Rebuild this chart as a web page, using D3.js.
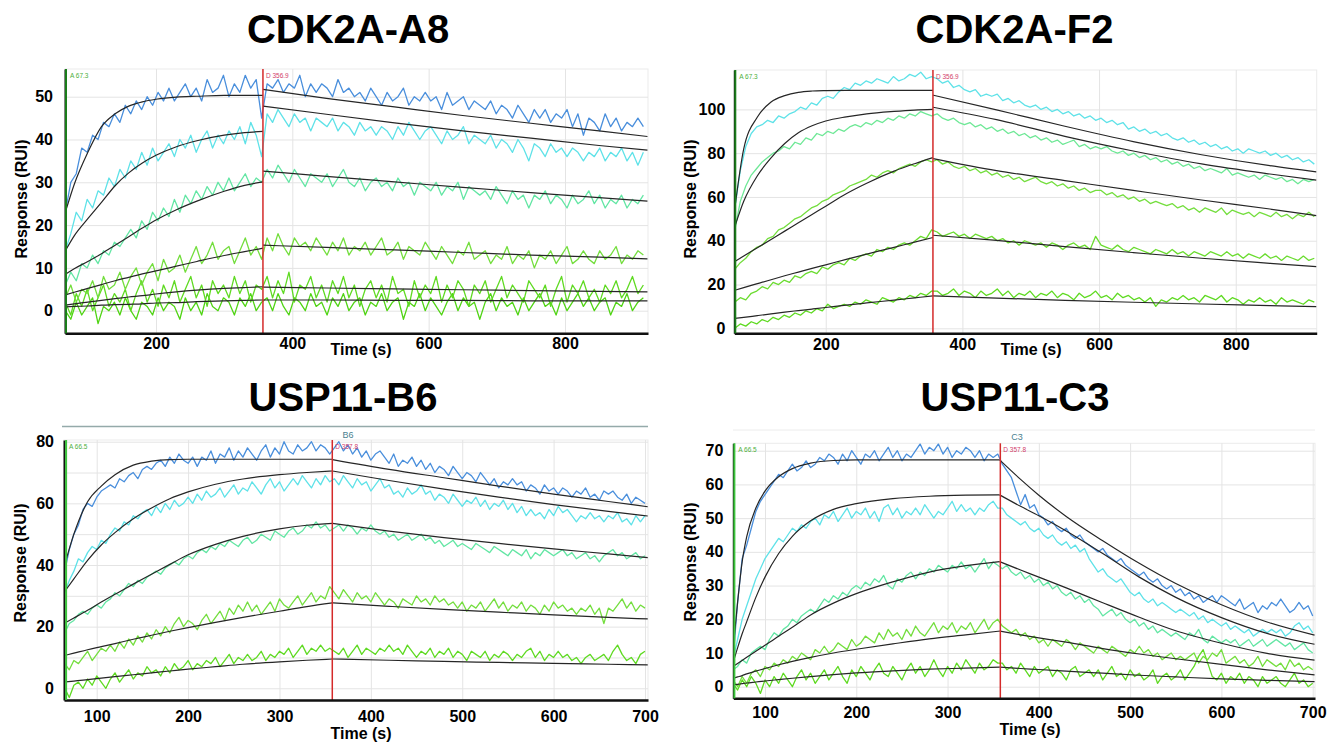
<!DOCTYPE html>
<html><head><meta charset="utf-8">
<script src="https://cdn.jsdelivr.net/npm/d3@7"></script>
<style>
body{margin:0;background:#fff;}
svg{display:block;font-family:"Liberation Sans",Arial,Helvetica,sans-serif;}
</style></head><body>
<svg id="c" width="1337" height="742"></svg>
<script>
// ---------- titles & ticks ----------
const titles = ["CDK2A-A8", "CDK2A-F2", "USP11-B6", "USP11-C3"];
const a8XTicks = [200, 400, 600, 800], a8YTicks = [0, 10, 20, 30, 40, 50], a8YGrid = [0, 10, 20, 30, 40, 50];
const f2XTicks = [200, 400, 600, 800], f2YTicks = [0, 20, 40, 60, 80, 100], f2YGrid = [0, 20, 40, 60, 80, 100];
const b6XTicks = [100, 200, 300, 400, 500, 600, 700], b6YTicks = [0, 20, 40, 60, 80], b6YGrid = [0, 10, 20, 30, 40, 50, 60, 70, 80];
const c3XTicks = [100, 200, 300, 400, 500, 600, 700], c3YTicks = [0, 10, 20, 30, 40, 50, 60, 70], c3YGrid = [0, 10, 20, 30, 40, 50, 60, 70];
const assocStart = [67.3, 67.3, 66.5, 66.5];
const dissocStart = [356.9, 356.9, 357.8, 357.8];

// ---------- sampling times (s) ----------
const a8Times = d3.range(67, 916, 8);
const f2Times = d3.range(67, 916, 8);
const b6Times = d3.range(65, 701, 5);
const c3Times = d3.range(65, 701, 5);

// ---------- CDK2A-A8 responses (RU) ----------
const a8S1 = [23,30,32,38,37,41,40,44,43,46, 44,48,46,49,47,50,48,51,49,52, 49,51,53,50,52,49,54,51,52,55, 50,53,51,55,52,54,45, 53,52,54,51,53,52,55,50,53,51, 53,52,50,54,51,52,50,51,49,52, 50,48,51,49,50,52,48,50,49,51, 49,50,47,51,48,49,50,47,49,48, 47,49,46,48,47,45,48,46,44,47, 45,47,44,46,45,47,43,46,41,45, 44,42,46,43,45,42,44,43,45,43];
const a8S2 = [14,18,23,21,26,24,28,27,31,29, 33,31,35,33,37,34,38,35,37,39, 36,40,38,41,37,40,42,38,41,39, 42,40,43,39,44,41,36, 46,44,47,45,43,46,44,45,42,45, 44,43,45,42,44,43,41,44,42,43, 41,43,42,40,43,41,44,42,40,42, 43,41,39,42,40,41,43,39,41,40, 39,41,38,40,39,37,40,38,35,39, 38,36,39,37,38,36,38,37,35,37, 36,38,35,37,36,38,35,37,34,37];
const a8S3 = [6,9,7,11,10,13,11,14,13,16, 15,17,19,17,21,19,23,21,24,22, 26,23,27,25,28,26,29,27,30,28, 31,28,30,32,29,31,30, 33,31,34,32,30,33,31,29,32,31, 30,32,29,31,33,30,29,31,28,30, 31,29,30,28,31,29,30,27,30,29, 28,30,27,29,28,30,26,29,28,27, 28,26,29,27,25,28,26,27,24,27, 26,28,25,27,26,24,27,25,26,28, 25,27,24,26,25,27,24,26,25,27];
const a8S4 = [3,6,2,5,4,7,3,8,5,6, 9,5,8,10,6,9,11,7,12,9, 10,13,9,12,15,11,13,16,12,14, 15,11,14,17,13,15,12, 17,14,18,15,13,17,15,16,14,17, 15,13,16,14,17,13,15,14,16,13, 15,17,13,14,16,12,15,14,13,16, 14,12,15,13,11,14,13,16,12,13, 14,11,13,12,15,11,13,12,14,10, 13,12,14,11,13,15,11,12,14,12, 11,14,12,13,15,11,13,12,14,13];
const a8S5 = [2,-1,4,1,5,0,3,6,1,4, 2,5,0,4,7,2,5,1,6,3, 7,2,5,8,3,6,1,7,4,6, 3,8,4,7,2,6,5, 8,3,7,4,9,2,6,5,8,3, 6,2,7,4,8,3,6,1,5,7, 3,6,2,8,4,5,1,7,3,6, 4,8,2,6,3,7,5,1,6,4, 7,2,5,8,3,6,4,2,7,5, 3,6,1,5,8,2,6,4,7,3, 5,2,6,4,7,3,5,8,4,6];
const a8S6 = [0,-2,2,-1,1,3,-3,1,0,2, -1,3,0,-2,2,1,-1,3,0,2, 1,-2,3,0,2,-1,4,1,0,3, 2,-1,3,1,4,0,2, 3,0,4,1,-1,3,2,0,4,1, 2,-1,3,1,4,0,2,3,-1,2, 1,4,0,2,3,-2,2,1,4,0, 3,1,-1,2,4,0,3,1,2,-2, 2,4,0,3,1,2,-1,3,0,2, 4,1,2,-1,3,0,2,4,1,3, 0,2,3,-1,2,1,4,0,2,3];
// fits
const a8FitAT = [67,80,100,120,140,160,180,200,230,260,300,330,357];
const a8FitA1 = [23,29.5,37,43,46,47.8,48.8,49.4,49.9,50.1,50.3,50.3,50.3];
const a8FitA2 = [14,17.5,21.5,25.3,29.2,32.2,34.5,36.3,38.3,39.7,41,41.6,41.9];
const a8FitA3 = [8.5,9.8,11.5,13.3,15.3,17.3,19.3,21.2,23.6,25.6,27.9,29.3,30.1];
const a8FitA4 = [3.7,4.3,5.2,6.1,7,7.8,8.6,9.3,10.4,11.5,12.9,13.8,14.6];
const a8FitA5 = [1.3,1.6,2,2.4,2.8,3.2,3.5,3.9,4.4,4.8,5.2,5.4,5.6];
const a8FitA6 = [0.9,1,1.1,1.3,1.4,1.5,1.6,1.8,1.9,2.1,2.3,2.4,2.5];
const a8FitDT = [357,450,550,650,750,850,921];
const a8FitD1 = [51.7,49.6,47.6,45.6,43.8,42,40.7];
const a8FitD2 = [47.8,45.9,43.9,42,40.3,38.6,37.5];
const a8FitD3 = [32.6,31.4,30.1,28.8,27.6,26.4,25.6];
const a8FitD4 = [15.3,14.8,14.2,13.6,13,12.5,12.1];
const a8FitD5 = [5.5,5.3,5.1,4.9,4.7,4.5,4.4];
const a8FitD6 = [2.5,2.5,2.4,2.4,2.3,2.3,2.3];

// ---------- CDK2A-F2 ----------
const f2S1 = [55,72,83,89,92,93,95,94,97,96, 98,99,101,100,103,102,105,106,105,108, 110,109,112,111,113,112,114,113,112,115, 113,114,116,115,117,114,115, 114,112,113,110,111,109,108,109,106,107, 106,107,104,105,103,104,102,101,102,100, 101,99,100,98,99,97,98,96,97,95, 96,94,95,93,94,91,92,90,91,89, 90,88,89,87,86,87,85,86,84,85, 83,84,82,83,81,82,80,82,81,80, 81,79,80,78,79,77,78,76,77,75];
const f2S2 = [45,58,65,70,73,76,78,80,81,83, 82,85,84,87,86,89,88,90,89,91, 90,92,93,92,94,93,95,94,96,95, 97,96,98,97,99,98,97, 98,96,95,96,94,93,94,92,93,91, 92,90,91,89,90,88,89,87,88,86, 87,85,86,84,85,86,83,84,82,83, 82,83,81,80,81,79,80,78,79,77, 78,76,77,75,76,74,75,73,74,72, 73,72,71,73,70,71,70,69,70,68, 70,69,68,69,67,68,66,68,67,68];
const f2S3 = [27,30,32,35,37,38,41,42,45,46, 48,50,51,53,55,56,58,59,61,62, 63,65,66,67,68,70,69,71,72,71, 73,74,75,74,76,77,76, 77,75,76,74,73,74,72,73,71,72, 70,71,69,70,68,69,67,68,69,67, 66,67,65,66,64,65,63,64,62,63, 63,61,62,60,61,59,60,58,59,57, 58,57,56,57,55,56,54,55,53,55, 54,53,55,52,54,53,52,53,51,53, 52,51,53,51,52,50,52,51,53,51];
const f2S4 = [12,14,13,16,17,19,18,21,20,22, 21,24,23,25,26,25,28,27,29,30, 29,32,31,33,34,33,36,35,37,36, 38,39,38,40,42,41,45, 44,42,43,44,42,43,41,43,42,41, 42,40,41,39,40,38,40,39,38,39, 37,39,38,36,38,39,37,38,36,42, 38,37,36,38,36,35,37,36,35,34, 36,35,34,36,34,35,33,35,34,33, 35,34,33,35,33,34,32,34,33,32, 34,32,33,31,33,32,31,33,31,32];
const f2S5 = [0,2,1,3,2,4,3,5,4,6, 5,7,6,8,7,9,8,11,9,10, 11,10,12,11,13,12,11,14,13,12, 14,13,15,14,16,15,17, 17,15,16,18,15,17,16,14,17,15, 16,18,15,17,14,16,15,17,14,16, 15,17,14,16,15,13,16,14,15,17, 14,15,13,16,14,15,13,14,12,14, 10,13,12,14,13,15,13,14,12,15, 14,13,15,12,14,13,11,13,12,14, 12,13,11,14,12,13,12,11,13,12];
const f2FitAT = [67,80,100,120,140,160,180,200,230,260,300,330,357];
const f2FitA1 = [55,82,96.5,103.4,106.3,107.8,108.4,108.6,108.7,108.7,108.7,108.7,108.7];
const f2FitA2 = [46.5,58,69.7,77.9,84.4,89.3,92.5,94.7,96.6,98,99.1,99.7,100];
const f2FitA3 = [30.5,33,36.8,40.6,44.4,48.2,52,55.8,61.5,66.3,71.8,75.2,78];
const f2FitA4 = [17.4,18.6,20.4,22.2,24,25.7,27.4,29,31.5,33.9,37,39.4,41.5];
const f2FitA5 = [4.5,5,5.8,6.6,7.4,8.1,8.8,9.5,10.6,11.6,12.9,13.9,14.8];
const f2FitDT = [357,450,550,650,750,850,918];
const f2FitD1 = [106.5,99.8,92.3,85.3,79.3,74.3,71.5];
const f2FitD2 = [101,95.3,87.7,81,75.1,70.5,67.7];
const f2FitD3 = [77.5,72,67.5,63,58.6,54.5,51.5];
const f2FitD4 = [42.5,40.2,37.3,34.6,32,29.7,28.2];
const f2FitD5 = [14.8,13.8,12.8,11.9,11.1,10.4,9.9];

// ---------- USP11-B6 ----------
const b6S1 = [38,45,50,53,58,60,59,62,64,65, 66,65,68,67,69,70,68,71,72,71, 73,74,72,75,73,76,74,73,75,72, 75,74,77,73,76,75,78,74,77,75, 78,76,74,77,79,75,78,76,80,77, 76,79,77,78,80,77,79,78,76, 78,80,77,79,76,78,75,77,74,76, 77,75,73,76,72,74,73,75,72,74, 71,73,70,72,71,69,72,70,68,70, 69,67,70,68,66,68,65,67,66,68, 66,67,64,66,65,63,66,64,65,63, 65,64,62,64,63,65,62,63,61,64, 63,64,62,61,63,60,62,61,60];
const b6S2 = [31,35,38,42,41,44,46,45,48,47, 50,52,51,54,53,56,55,57,58,56, 59,57,60,58,61,59,60,62,60,63, 61,64,62,63,65,62,64,66,63,65, 64,67,65,63,66,68,65,67,64,66, 68,66,69,67,65,68,66,69,67, 68,66,69,67,65,68,66,67,64,66, 68,65,66,63,64,62,65,63,64,66, 63,64,61,63,62,60,63,61,59,61, 60,62,59,61,58,60,59,61,58,60, 57,59,56,58,56,57,55,58,56,59, 57,58,56,54,56,55,57,55,56,54, 56,55,57,54,55,53,56,54,56];
const b6S3 = [18,21,22,24,25,24,26,27,26,28, 29,31,30,32,34,33,35,34,36,37, 38,37,39,40,41,40,42,43,42,44, 45,44,46,45,47,46,48,47,46,48, 49,47,48,50,49,48,51,50,49,51, 52,50,51,53,52,54,52,53,51, 52,53,51,53,52,50,52,51,53,51, 50,51,49,50,48,49,50,48,49,50, 48,49,47,48,46,47,48,46,47,46, 45,47,46,45,44,46,45,44,43,45, 44,43,45,42,44,43,45,44,43,44, 45,43,44,42,43,44,42,43,41,43, 44,45,43,44,42,43,44,42,43];
const b6S4 = [8,6,9,8,10,12,9,11,13,12, 14,12,15,13,16,14,17,15,18,16, 19,17,20,18,21,23,20,22,21,19, 22,24,21,23,25,22,26,24,27,25, 28,25,27,24,26,28,25,29,27,26, 28,30,27,29,31,28,30,29,33, 31,29,32,30,28,31,29,30,28,31, 29,27,29,28,26,29,28,27,30,28, 29,27,30,28,29,27,28,26,28,25, 27,26,28,25,27,29,26,28,25,27, 26,28,25,27,26,24,27,25,28,26, 27,25,26,24,26,25,27,24,26,21, 26,25,27,29,26,28,25,27,26];
const b6S5 = [0,-3,1,2,0,3,1,4,2,0, 3,5,2,4,6,3,5,4,7,5, 6,4,7,5,8,6,7,9,6,8, 7,9,8,10,7,9,11,8,10,9, 11,9,10,12,9,11,10,12,11,13, 10,12,14,11,13,12,14,12,13, 12,11,13,10,12,14,11,13,12,11, 13,12,14,12,13,11,14,12,10,12, 11,13,10,12,11,13,10,12,11,9, 12,11,10,12,9,11,10,12,11,9, 11,10,12,13,10,12,9,11,10,12, 10,11,9,10,8,10,11,9,10,11, 9,12,14,11,9,10,8,11,12];
const b6FitAT = [64,75,90,105,120,140,160,180,200,230,260,300,330,358];
const b6FitA1 = [39,50,60.5,65.6,69.3,72.4,73.7,74.2,74.3,74.3,74.3,74.3,74.3,74.3];
const b6FitA2 = [31,35.5,41.5,46.5,50.5,55,58.5,61.5,63.7,66.2,67.9,69.3,70,70.5];
const b6FitA3 = [21,22.8,25.3,28,30.5,33.8,37,40.2,43.3,46.7,49.3,51.7,52.9,53.5];
const b6FitA4 = [10.6,11.4,12.5,13.5,14.5,15.9,17.2,18.5,19.7,21.4,23,25,26.5,27.7];
const b6FitA5 = [2,2.3,2.8,3.3,3.8,4.4,5,5.6,6.2,7,7.8,8.6,9.1,9.5];
const b6FitDT = [358,420,480,540,600,660,703];
const b6FitD1 = [74.2,71,68.3,65.6,63,60.6,58.9];
const b6FitD2 = [70.5,67.4,64.6,62,59.6,57.4,55.9];
const b6FitD3 = [53.5,51,48.9,47,45.2,43.6,42.4];
const b6FitD4 = [27.7,26.6,25.6,24.7,23.8,23,22.5];
const b6FitD5 = [9.5,9.1,8.7,8.4,8.1,7.8,7.6];

// ---------- USP11-C3 ----------
const c3S1 = [8,25,38,42,47,52,55,57,59,61, 63,62,64,66,64,65,67,65,66,68, 67,69,68,66,69,67,70,68,66,69, 68,70,67,69,71,68,70,67,69,68, 70,72,69,71,70,72,69,71,68,70, 69,71,70,68,70,67,69,68,69, 66,64,62,58,54,57,53,54,51,50, 48,49,47,46,47,45,44,45,43,42, 41,40,41,39,38,37,38,36,35,34, 33,34,32,31,32,30,29,30,28,29, 27,28,26,27,25,26,27,25,27,26, 25,24,26,23,24,25,22,24,23,25, 24,26,24,22,23,25,23,24,21];
const c3S2 = [8,14,20,24,28,32,35,38,40,42, 44,43,45,47,46,48,47,49,50,48, 51,50,52,49,51,53,50,52,51,53, 50,52,49,53,54,51,53,50,52,51, 53,51,54,52,50,52,51,53,55,52, 54,52,53,51,53,52,54,55,53, 53,51,50,49,48,49,47,46,47,45, 44,45,43,42,43,41,42,40,41,38, 36,34,35,33,32,31,32,30,28,27, 28,26,25,26,24,25,24,23,22,23, 22,21,22,20,21,19,20,19,18,19, 17,18,17,16,17,15,16,17,16,17, 16,17,15,16,18,19,17,18,16];
const c3S3 = [5,6,8,7,10,11,12,11,14,16, 15,17,18,20,19,21,22,23,22,24, 26,25,27,26,28,27,29,30,29,31, 30,32,31,33,30,29,32,31,33,34, 32,34,33,35,34,36,35,34,36,35, 37,35,36,34,36,38,35,37,36, 35,36,34,33,34,32,33,31,32,30, 31,29,30,28,27,28,26,27,25,26, 24,23,21,22,23,21,22,20,19,20, 18,19,17,18,16,17,16,15,16,15, 14,16,15,17,14,13,15,14,13,14, 13,14,12,13,14,12,13,14,12,13, 14,13,12,13,11,12,13,11,10];
const c3S4 = [2,0,3,1,4,5,3,6,5,7, 6,8,7,9,8,10,9,8,11,10, 12,10,11,13,12,11,14,12,13,15, 14,13,16,14,17,15,16,14,17,15, 18,16,15,17,19,16,18,17,19,16, 18,17,19,16,18,20,17,19,20, 18,17,16,17,15,16,14,15,13,14, 12,14,13,12,14,13,11,13,12,11, 10,12,11,10,12,11,10,9,11,10, 12,10,11,9,10,8,9,10,8,9, 8,9,10,7,9,8,10,9,11,7, 8,9,7,8,6,7,9,6,8,7, 6,7,5,8,6,7,5,6,5];
const c3S5 = [1,-1,2,0,3,1,-2,2,0,3, 1,4,2,0,3,5,2,4,1,3, 5,2,4,6,3,1,5,3,6,4, 2,5,7,4,3,6,4,2,5,7, 4,6,3,5,8,5,3,6,4,7, 5,8,6,4,7,5,6,8,7, 7,5,6,4,7,5,3,6,4,5, 6,3,5,4,2,5,6,3,4,5, 3,5,2,4,6,3,4,2,5,3, 4,2,3,5,1,3,4,2,3,5, 2,4,6,9,11,7,3,2,4,1, 3,2,4,1,3,2,0,3,1,2, 3,1,0,2,4,1,2,0,1];
const c3FitAT = [65,70,75,80,90,100,115,130,150,175,200,240,280,320,357];
const c3FitA1 = [11,25,37,44.5,53,58,62.3,64.7,66.3,67.1,67.3,67.3,67.3,67.3,67.3];
const c3FitA2 = [7,11.5,15.7,19.3,26.5,32.5,39.5,44.6,49.2,52.6,54.3,55.8,56.5,56.8,56.9];
const c3FitA3 = [6,6.9,7.8,8.7,10.5,12.3,15,17.6,21.3,24.8,27.6,31.1,34,35.9,37.1];
const c3FitA4 = [2.5,2.9,3.3,3.8,4.6,5.4,6.5,7.5,8.7,10,11.1,12.7,14.2,15.4,16.5];
const c3FitA5 = [0.5,0.7,0.9,1.1,1.4,1.7,2.1,2.5,3,3.6,4.1,4.7,5.2,5.5,5.8];
const c3FitDT = [357,380,400,430,470,510,550,600,650,702];
const c3FitD1 = [67.3,61.5,56.8,50.5,43.3,36.6,30.6,24.3,19.2,15.3];
const c3FitD2 = [56.9,53.5,50.7,46.2,39.5,32.5,26.5,20.5,15.8,12.6];
const c3FitD3 = [37.1,34.6,32.5,29.3,24.9,20.6,16.6,12.9,9.9,7.9];
const c3FitD4 = [16.5,15.4,14.5,13.2,11.3,9.7,8.3,6.6,5,3.5];
const c3FitD5 = [5.8,5.4,5.1,4.6,4,3.4,2.9,2.3,1.9,1.5];

// ---------- colours ----------
const cBlue = "#4a8fdc", cCyan = "#5fe2e8", cMint = "#63e6a4", cGreen = "#74de3e", cLime = "#5fda22", cLime2 = "#50d414";

// ---------- panel table ----------
const panels = [
  {title: titles[0], tx: 348, ty: 43, L: 65, R: 648, T: 69, B: 333.3, xd: [66.5, 921.8], yd: [-5.28, 56.47],
   xt: a8XTicks, yt: a8YTicks, yg: a8YGrid, times: a8Times,
   series: [a8S6, a8S5, a8S4, a8S3, a8S2, a8S1], colors: [cLime2, cLime, cGreen, cMint, cCyan, cBlue],
   fAT: a8FitAT, fA: [a8FitA1, a8FitA2, a8FitA3, a8FitA4, a8FitA5, a8FitA6],
   fDT: a8FitDT, fD: [a8FitD1, a8FitD2, a8FitD3, a8FitD4, a8FitD5, a8FitD6],
   a: assocStart[0], d: dissocStart[0], xPad: 4.5, yPad: 12, tl: [361, 355], yl: [21, 199], gc: "#1b7d1b", tag: null},
  {title: titles[1], tx: 1014.5, ty: 43, L: 734.3, R: 1316.7, T: 70, B: 333.3, xd: [66.2, 918.5], yd: [-2.28, 118],
   xt: f2XTicks, yt: f2YTicks, yg: f2YGrid, times: f2Times,
   series: [f2S5, f2S4, f2S3, f2S2, f2S1], colors: [cLime, "#6bdc30", cGreen, "#6ee896", cCyan],
   fAT: f2FitAT, fA: [f2FitA1, f2FitA2, f2FitA3, f2FitA4, f2FitA5],
   fDT: f2FitDT, fD: [f2FitD1, f2FitD2, f2FitD3, f2FitD4, f2FitD5],
   a: assocStart[1], d: dissocStart[1], xPad: 5, yPad: 9, tl: [1031, 355], yl: [690, 199], gc: "#1b7d1b", tag: null},
  {title: titles[2], tx: 343, ty: 411, L: 64, R: 648, T: 440, B: 700, xd: [64.2, 703.3], yd: [-3.8, 80.55],
   xt: b6XTicks, yt: b6YTicks, yg: b6YGrid, times: b6Times,
   series: [b6S5, b6S4, b6S3, b6S2, b6S1], colors: [cLime, cGreen, cMint, cCyan, cBlue],
   fAT: b6FitAT, fA: [b6FitA1, b6FitA2, b6FitA3, b6FitA4, b6FitA5],
   fDT: b6FitDT, fD: [b6FitD1, b6FitD2, b6FitD3, b6FitD4, b6FitD5],
   a: assocStart[2], d: dissocStart[2], xPad: 10.5, yPad: 10, tl: [361, 739], yl: [20, 563], gc: "#3cc43c",
   tag: "B6", tagXY: [348, 437.5], topLine: [62, 648, 426.5, "#95aaaa", 1.5]},
  {title: titles[3], tx: 1015, ty: 411, L: 733.3, R: 1315, T: 443.3, B: 698.3, xd: [65.3, 702.5], yd: [-3.44, 72.2],
   xt: c3XTicks, yt: c3YTicks, yg: c3YGrid, times: c3Times,
   series: [c3S5, c3S4, c3S3, c3S2, c3S1], colors: [cLime, cGreen, cMint, cCyan, cBlue],
   fAT: c3FitAT, fA: [c3FitA1, c3FitA2, c3FitA3, c3FitA4, c3FitA5],
   fDT: c3FitDT, fD: [c3FitD1, c3FitD2, c3FitD3, c3FitD4, c3FitD5],
   a: assocStart[3], d: dissocStart[3], xPad: 8.5, yPad: 10, tl: [1030, 735], yl: [690, 562], gc: "#3cc43c",
   tag: "C3", tagXY: [1017, 440], topLine: [733, 1315, 430, "#ececec", 1]}
];

const svg = d3.select("#c");
svg.append("rect").attr("width", 1337).attr("height", 742).attr("fill", "#fff");
const defs = svg.append("defs");

panels.forEach((p, pi) => {
  const x = d3.scaleLinear().domain(p.xd).range([p.L, p.R]);
  const y = d3.scaleLinear().domain(p.yd).range([p.B, p.T]);
  const g = svg.append("g");

  // title
  g.append("text").attr("x", p.tx).attr("y", p.ty).attr("text-anchor", "middle")
    .attr("font-size", 40).attr("font-weight", "bold").attr("fill", "#000").text(p.title);

  if (p.topLine) {
    g.append("line").attr("x1", p.topLine[0]).attr("x2", p.topLine[1]).attr("y1", p.topLine[2]).attr("y2", p.topLine[2])
      .attr("stroke", p.topLine[3]).attr("stroke-width", p.topLine[4]);
  }

  // frame
  g.append("rect").attr("x", p.L).attr("y", p.T).attr("width", p.R - p.L).attr("height", p.B - p.T)
    .attr("fill", "none").attr("stroke", "#ebebeb").attr("stroke-width", 1);

  // grid
  g.append("g").attr("transform", `translate(0,${p.B})`)
    .call(d3.axisBottom(x).tickValues(p.xt).tickSize(-(p.B - p.T)).tickFormat(""))
    .call(s => s.select(".domain").remove())
    .selectAll("line").attr("stroke", "#e4e4e4").attr("stroke-width", 1);
  g.append("g").attr("transform", `translate(${p.L},0)`)
    .call(d3.axisLeft(y).tickValues(p.yg).tickSize(-(p.R - p.L)).tickFormat(""))
    .call(s => s.select(".domain").remove())
    .selectAll("line").attr("stroke", "#e4e4e4").attr("stroke-width", 1);

  // clip
  const cid = "clip" + pi;
  defs.append("clipPath").attr("id", cid).append("rect")
    .attr("x", p.L).attr("y", p.T).attr("width", p.R - p.L).attr("height", p.B - p.T);
  const plot = g.append("g").attr("clip-path", `url(#${cid})`);

  // data traces
  p.series.forEach((s, si) => {
    const ln = d3.line().x((d, i) => x(p.times[i])).y(d => y(d));
    plot.append("path").datum(s).attr("d", ln).attr("fill", "none")
      .attr("stroke", p.colors[si]).attr("stroke-width", 1.3).attr("stroke-linejoin", "round");
  });

  // fitted curves
  const fitGroups = [[p.fAT, p.fA], [p.fDT, p.fD]];
  fitGroups.forEach(([ts, arrs]) => {
    arrs.forEach(arr => {
      const ln = d3.line().x((d, i) => x(ts[i])).y(d => y(d)).curve(d3.curveMonotoneX);
      plot.append("path").datum(arr).attr("d", ln).attr("fill", "none")
        .attr("stroke", "#262626").attr("stroke-width", 1.2);
    });
  });

  // injection markers
  g.append("line").attr("x1", x(p.d)).attr("x2", x(p.d)).attr("y1", p.T).attr("y2", p.B)
    .attr("stroke", "#d42a2a").attr("stroke-width", 1.5);

  // axes
  const xa = g.append("g").attr("transform", `translate(0,${p.B})`)
    .call(d3.axisBottom(x).tickValues(p.xt).tickSize(0).tickSizeOuter(0).tickPadding(p.xPad).tickFormat(d3.format("d")));
  xa.select(".domain").attr("stroke", "#111").attr("stroke-width", 2.5);
  xa.selectAll("text").attr("font-size", 16).attr("font-weight", "bold").attr("fill", "#000")
    .attr("font-family", "Liberation Sans, Arial, sans-serif");
  const ya = g.append("g").attr("transform", `translate(${p.L},0)`)
    .call(d3.axisLeft(y).tickValues(p.yt).tickSize(0).tickSizeOuter(0).tickPadding(p.yPad).tickFormat(d3.format("d")));
  ya.select(".domain").attr("stroke", "#111").attr("stroke-width", 2);
  ya.selectAll("text").attr("font-size", 16).attr("font-weight", "bold").attr("fill", "#000")
    .attr("font-family", "Liberation Sans, Arial, sans-serif");

  g.append("line").attr("x1", Math.max(x(p.a), p.L + 1)).attr("x2", Math.max(x(p.a), p.L + 1))
    .attr("y1", p.T).attr("y2", p.B).attr("stroke", p.gc).attr("stroke-width", 2);

  // small annotations
  g.append("text").attr("x", p.L + 5).attr("y", p.T + 9).attr("font-size", 6.5).attr("fill", "#4caf3c")
    .text("A " + p.a);
  g.append("text").attr("x", x(p.d) + 3).attr("y", p.T + 9).attr("font-size", 6.5).attr("fill", "#d2406a")
    .text("D " + p.d);
  if (p.tag) {
    g.append("text").attr("x", p.tagXY[0]).attr("y", p.tagXY[1]).attr("text-anchor", "middle")
      .attr("font-size", 9).attr("fill", "#4a7f8f").text(p.tag);
  }

  // axis titles
  g.append("text").attr("x", p.tl[0]).attr("y", p.tl[1]).attr("text-anchor", "middle")
    .attr("font-size", 16).attr("font-weight", "bold").attr("fill", "#000").text("Time (s)");
  g.append("text").attr("transform", `translate(${p.yl[0]},${p.yl[1]}) rotate(-90)`)
    .attr("text-anchor", "middle").attr("dominant-baseline", "central")
    .attr("font-size", 16).attr("font-weight", "bold").attr("fill", "#000").text("Response (RUI)");
});
</script>
</body></html>
